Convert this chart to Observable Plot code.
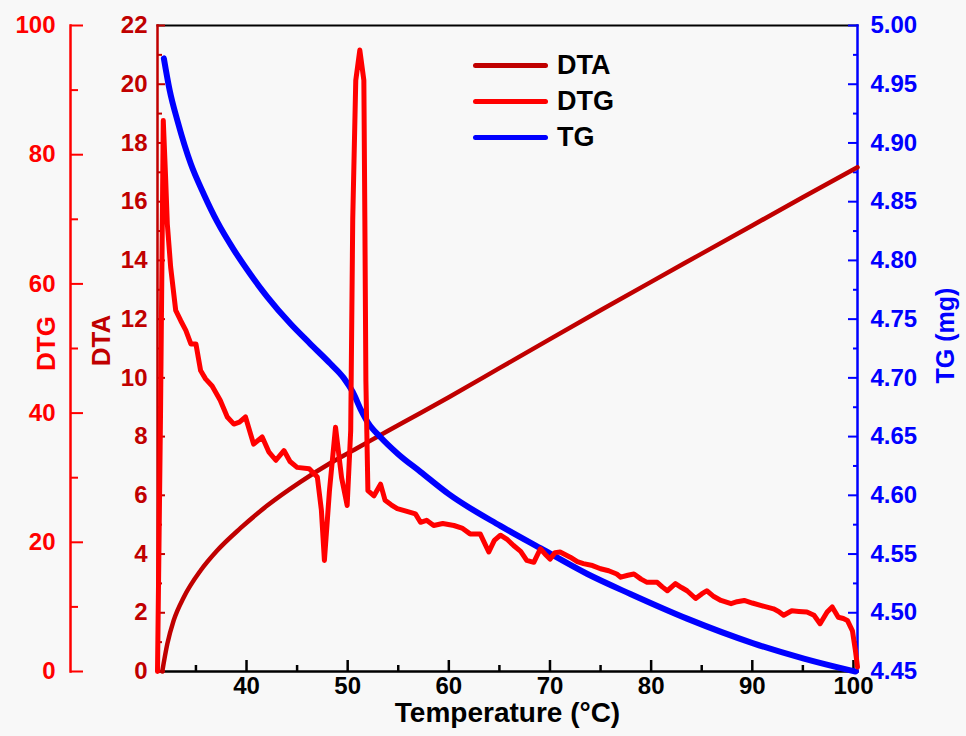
<!DOCTYPE html>
<html>
<head>
<meta charset="utf-8">
<script src="https://cdn.jsdelivr.net/npm/d3@7"></script>
<script src="https://cdn.jsdelivr.net/npm/@observablehq/plot@0.6"></script>
<style>
  body { margin: 0; background: #f8f8f8; }
  #wrap { position: relative; width: 966px; height: 736px; font-family: "Liberation Sans", Arial, sans-serif; }
  #legend { position: absolute; left: 473px; top: 47px; }
  .item { position: absolute; left: 0; width: 200px; height: 36px; display: flex; align-items: center; }
  .swatch { width: 75px; height: 5px; border-radius: 3px; }
  .name { margin-left: 9px; font-size: 27px; font-weight: bold; color: #000; }
</style>
</head>
<body>
<div id="wrap"><div id="legend"></div></div>
<script>
// ---- scales / ticks ----
const xDomain = [31.2, 100.4];
const dtaDomain = [0, 22];
const dtgDomain = [0, 100];
const tgDomain = [4.45, 5.00];

const xTicksMajor = [40, 50, 60, 70, 80, 90, 100];
const xTicksMinor = [35, 45, 55, 65, 75, 85, 95];
const dtaTicksMajor = [0, 2, 4, 6, 8, 10, 12, 14, 16, 18, 20, 22];
const dtaTicksMinor = [1, 3, 5, 7, 9, 11, 13, 15, 17, 19, 21];
const dtgTicksMajor = [0, 20, 40, 60, 80, 100];
const dtgTicksMinor = [10, 30, 50, 70, 90];
const tgTicksMajor = [4.45, 4.50, 4.55, 4.60, 4.65, 4.70, 4.75, 4.80, 4.85, 4.90, 4.95, 5.00];
const tgTicksMinor = [4.475, 4.525, 4.575, 4.625, 4.675, 4.725, 4.775, 4.825, 4.875, 4.925, 4.975];

// ---- series: [temperature °C, value] ----
const dtaData = [
  [31.67, 0], [32.17, 0.94], [32.8, 1.74], [33.8, 2.53], [35.46, 3.44], [37.1, 4.12],
  [39.4, 4.88], [42.05, 5.65], [45.3, 6.45], [48.3, 7.1], [51, 7.62], [54, 8.2],
  [57.2, 8.8], [60, 9.34], [65, 10.33], [70, 11.32], [75, 12.3], [80, 13.27],
  [85, 14.23], [90, 15.19], [95, 16.15], [100.4, 17.17]
];

const dtgData = [
  [31.2, 0], [31.5, 40], [31.77, 85.3], [32.0, 76.5], [32.17, 69.3], [32.5, 62.6],
  [33.0, 55.9], [33.5, 54.3], [34.0, 52.8], [34.5, 50.7], [35.0, 50.7], [35.46, 46.6],
  [35.95, 45.3], [36.6, 44.2], [37.4, 42.0], [38.1, 39.4], [38.75, 38.3], [39.3, 38.6],
  [39.9, 39.4], [40.7, 35.2], [41.55, 36.3], [42.2, 34.0], [42.9, 32.7], [43.7, 34.2],
  [44.3, 32.5], [45.0, 31.6], [46.2, 31.4], [47.0, 30.1], [47.4, 25], [47.7, 17.2],
  [48.2, 28], [48.8, 37.8], [49.4, 30], [49.95, 25.7], [50.3, 37.3], [50.5, 70],
  [50.8, 91.5], [51.2, 96.2], [51.6, 91.5], [51.7, 69.8], [51.8, 45], [52.0, 28],
  [52.6, 27.2], [53.25, 29.0], [53.7, 26.5], [54.3, 25.8], [54.9, 25.2], [55.6, 24.9],
  [56.7, 24.4], [57.2, 23.1], [57.8, 23.4], [58.5, 22.6], [59.4, 22.9], [60.5, 22.6],
  [61.3, 22.2], [62.1, 21.3], [63.1, 21.3], [63.95, 18.5], [64.5, 20.3], [65.1, 21.1],
  [65.8, 20.4], [66.4, 19.5], [67.1, 18.6], [67.7, 17.2], [68.4, 16.9], [69.05, 19.0],
  [69.5, 18.2], [70.0, 17.4], [70.5, 18.4], [71.0, 18.5], [72.0, 17.7], [72.7, 17.0],
  [73.3, 16.7], [74.2, 16.4], [75.0, 15.9], [75.8, 15.6], [76.6, 15.1], [77.0, 14.6],
  [77.7, 14.9], [78.3, 15.1], [79.0, 14.3], [79.6, 13.8], [80.6, 13.8], [81.1, 13.1],
  [81.6, 12.5], [82.4, 13.6], [83.0, 13.0], [83.55, 12.5], [84.4, 11.3], [85.0, 12.0],
  [85.5, 12.5], [86.2, 11.6], [86.9, 11.0], [87.9, 10.5], [88.5, 10.8], [89.2, 11.0],
  [90.0, 10.6], [90.9, 10.2], [92.1, 9.7], [92.6, 9.3], [93.1, 8.7], [93.9, 9.4],
  [94.6, 9.3], [95.4, 9.2], [96.1, 8.7], [96.7, 7.4], [97.4, 9.2], [97.9, 10.0],
  [98.5, 8.4], [99.0, 8.2], [99.4, 7.9], [99.9, 6.3], [100.2, 3.2], [100.4, 0.7]
];

const tgData = [
  [31.83, 4.972], [32.4, 4.945], [33.2, 4.918], [34.5, 4.882], [35.8, 4.856],
  [37.1, 4.833], [38.75, 4.809], [40.4, 4.788], [42.05, 4.769], [44.35, 4.746],
  [46.3, 4.729], [48.3, 4.712], [49.6, 4.700], [50.5, 4.688], [51.3, 4.673],
  [52.0, 4.662], [53.3, 4.649], [55.0, 4.635], [57.2, 4.620], [60.0, 4.601],
  [65.1, 4.574], [69.06, 4.555], [73.7, 4.533], [77.95, 4.516], [83.55, 4.495],
  [90.1, 4.474], [95.1, 4.461], [99.7, 4.451], [100.2, 4.450]
];

const series = [
  {name: "DTA", color: "#c00000"},
  {name: "DTG", color: "#ff0000"},
  {name: "TG", color: "#0000ff"}
];

// map secondary axes onto the DTA (primary y) scale
const span = dtaDomain[1] - dtaDomain[0];
const dtgToY = v => (v - dtgDomain[0]) / (dtgDomain[1] - dtgDomain[0]) * span;
const yToDtg = y => y / span * (dtgDomain[1] - dtgDomain[0]) + dtgDomain[0];
const tgToY = v => (v - tgDomain[0]) / (tgDomain[1] - tgDomain[0]) * span;
const yToTg = y => y / span * (tgDomain[1] - tgDomain[0]) + tgDomain[0];

const font = {fontSize: 24, fontWeight: "bold"};

const chart = Plot.plot({
  width: 966, height: 736,
  marginLeft: 157, marginRight: 109, marginTop: 25, marginBottom: 65,
  style: {background: "transparent", fontFamily: "'Liberation Sans', Arial, sans-serif", overflow: "visible"},
  x: {domain: xDomain},
  y: {domain: dtaDomain},
  marks: [
    // frame pieces / axis lines
    Plot.frame({anchor: "top", stroke: "#000", strokeWidth: 2}),
    Plot.frame({anchor: "bottom", stroke: "#000", strokeWidth: 2.5}),
    Plot.frame({anchor: "left", stroke: "#c00000", strokeWidth: 2.5}),
    Plot.frame({anchor: "right", stroke: "#0000ff", strokeWidth: 2.5}),
    Plot.frame({anchor: "left", dx: -87, stroke: "#ff0000", strokeWidth: 2.5}),

    // x axis
    Plot.axisX(xTicksMajor, {anchor: "bottom", tickSize: -11, tickPadding: 16, color: "#000", strokeWidth: 2.5, label: null, ...font}),
    Plot.axisX(xTicksMinor, {anchor: "bottom", tickSize: -6, tickFormat: () => "", color: "#000", strokeWidth: 2.5, label: null}),

    // DTA axis (primary)
    Plot.axisY(dtaTicksMajor, {anchor: "left", tickSize: -8, tickPadding: 18, color: "#c00000", strokeWidth: 2, label: null, ...font}),
    Plot.axisY(dtaTicksMinor, {anchor: "left", tickSize: -5, tickFormat: () => "", color: "#c00000", strokeWidth: 2, label: null}),

    // DTG axis (outer left)
    Plot.axisY(dtgTicksMajor.map(dtgToY), {anchor: "left", dx: -87, tickSize: -13, tickPadding: 28,
      tickFormat: d => String(Math.round(yToDtg(d))), color: "#ff0000", strokeWidth: 2, label: null, ...font}),
    Plot.axisY(dtgTicksMinor.map(dtgToY), {anchor: "left", dx: -87, tickSize: -8, tickFormat: () => "",
      color: "#ff0000", strokeWidth: 2, label: null}),

    // TG axis (right)
    Plot.axisY(tgTicksMajor.map(tgToY), {anchor: "right", tickSize: -10, tickPadding: 23,
      tickFormat: d => yToTg(d).toFixed(2), color: "#0000ff", strokeWidth: 2, label: null, ...font}),
    Plot.axisY(tgTicksMinor.map(tgToY), {anchor: "right", tickSize: -5, tickFormat: () => "",
      color: "#0000ff", strokeWidth: 2, label: null}),

    // axis titles
    Plot.text(["Temperature (°C)"], {text: d => d, frameAnchor: "bottom", textAnchor: "middle", dy: 50, fontSize: 28, fontWeight: "bold", fill: "#000"}),
    Plot.text(["DTG"], {text: d => d, frameAnchor: "left", textAnchor: "middle", dx: -111, dy: -5, rotate: -90, fontSize: 26, fontWeight: "bold", fill: "#ff0000"}),
    Plot.text(["DTA"], {text: d => d, frameAnchor: "left", textAnchor: "middle", dx: -56, dy: -8, rotate: -90, fontSize: 26, fontWeight: "bold", fill: "#c00000"}),
    Plot.text(["TG (mg)"], {text: d => d, frameAnchor: "right", textAnchor: "middle", dx: 88, dy: -13, rotate: -90, fontSize: 25, fontWeight: "bold", fill: "#0000ff"}),

    // data lines
    Plot.line(dtaData, {x: d => d[0], y: d => d[1], stroke: series[0].color, strokeWidth: 4.5, curve: "monotone-x"}),
    Plot.line(tgData, {x: d => d[0], y: d => tgToY(d[1]), stroke: series[2].color, strokeWidth: 6, curve: "monotone-x"}),
    Plot.line(dtgData, {x: d => d[0], y: d => dtgToY(d[1]), stroke: series[1].color, strokeWidth: 5, strokeLinejoin: "round"})
  ]
});

document.getElementById("wrap").prepend(chart);

// legend (inside the plot area, top centre)
const legend = document.getElementById("legend");
series.forEach((s, i) => {
  const item = document.createElement("div");
  item.className = "item";
  item.style.top = (i * 36) + "px";
  const sw = document.createElement("div");
  sw.className = "swatch";
  sw.style.background = s.color;
  const nm = document.createElement("span");
  nm.className = "name";
  nm.textContent = s.name;
  item.append(sw, nm);
  legend.append(item);
});
</script>
</body>
</html>
